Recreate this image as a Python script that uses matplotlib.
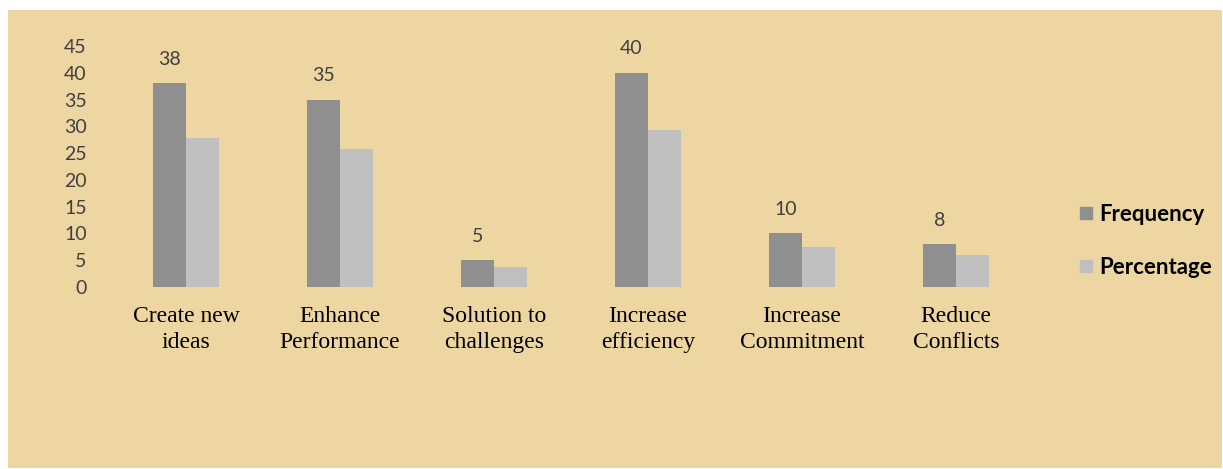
import matplotlib
matplotlib.use("Agg")
import matplotlib.pyplot as plt
from matplotlib.patches import Rectangle
from matplotlib.lines import Line2D
import numpy as np

categories = ["Create new\nideas", "Enhance\nPerformance", "Solution to\nchallenges",
              "Increase\nefficiency", "Increase\nCommitment", "Reduce\nConflicts"]
frequency = [38, 35, 5, 40, 10, 8]
percentage = [27.9, 25.7, 3.7, 29.4, 7.4, 5.9]
yticks = [0, 5, 10, 15, 20, 25, 30, 35, 40, 45]

W, H = 1223, 469
fig = plt.figure(figsize=(W / 100, H / 100), dpi=100)
fig.patch.set_facecolor("white")

# papyrus-like background panel
bg = Rectangle((8 / W, 1 / H), 1214 / W, 458 / H, transform=fig.transFigure,
               facecolor="#EDD6A2", edgecolor="none", zorder=-10)
fig.patches.append(bg)

ax = fig.add_axes([109 / W, 182 / H, 924 / W, 241 / H])
ax.set_zorder(5)
ax.set_facecolor("none")

x = np.arange(len(categories))
bw = 33 / 154
dark = "#8F8F8F"
light = "#BFBFBF"
ax.bar(x - bw / 2, frequency, width=bw, color=dark, label="Frequency", zorder=2)
ax.bar(x + bw / 2, percentage, width=bw, color=light, label="Percentage", zorder=2)

for xi, v in zip(x, frequency):
    ax.annotate(str(v), (xi - bw / 2, v), xytext=(0, 11), textcoords="offset points",
                ha="center", va="bottom", fontsize=14, color="#404040", family="Lato")

ax.set_xlim(-0.5, len(categories) - 0.5)
ax.set_ylim(0, 45)
ax.set_yticks(yticks)
ax.set_yticklabels([str(t) for t in yticks], fontsize=14, color="#404040", family="Lato")
ax.set_xticks(x)
ax.set_xticklabels(categories, fontsize=17, family="Liberation Serif", color="black",
                   linespacing=1.28)
ax.tick_params(axis="y", length=0, pad=16)
ax.tick_params(axis="x", length=0, pad=14)
for s in ax.spines.values():
    s.set_visible(False)

handles = [Line2D([], [], marker="s", linestyle="none", markersize=9,
                  markerfacecolor=dark, markeredgecolor=dark),
           Line2D([], [], marker="s", linestyle="none", markersize=9,
                  markerfacecolor=light, markeredgecolor=light)]
leg = fig.legend(handles, ["Frequency", "Percentage"], loc="center left",
                 bbox_to_anchor=(1058 / W, (469 - 241) / H), frameon=False,
                 prop={"family": "Lato", "weight": "bold", "size": 16},
                 handlelength=0.7, handletextpad=0.25, labelspacing=1.45)

fig.savefig("out.png", dpi=100, facecolor=fig.get_facecolor())
